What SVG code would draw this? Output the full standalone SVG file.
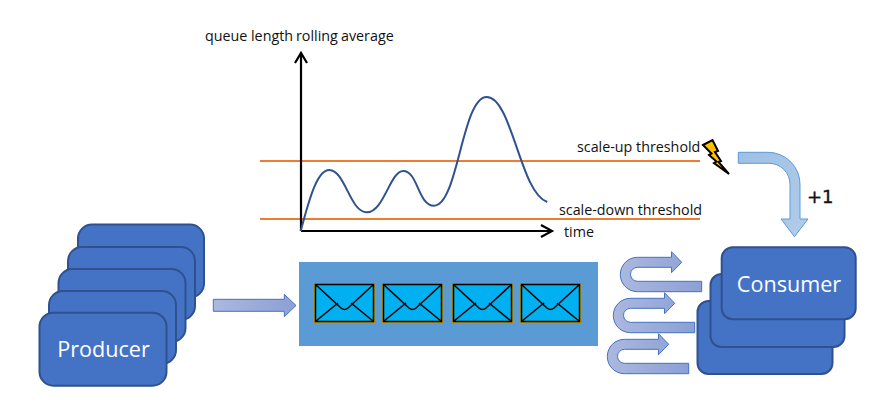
<svg xmlns="http://www.w3.org/2000/svg" width="881" height="416" viewBox="0 0 881 416">
<style>
text{font-family:"Open Sans","Noto Sans","DejaVu Sans",sans-serif;fill:#111}
.box{fill:#4472c4;stroke:#2f528f;stroke-width:2}
.name{font-size:21.600px;fill:#fff;text-anchor:middle}
.lab{font-size:14.300px}
.ax{fill:none;stroke:#000;stroke-width:2.2}
.th{stroke:#ed7d31;stroke-width:2;fill:none}
.u{fill:url(#gu);stroke:#4472c4;stroke-width:1}
.env .b{fill:#00b0f0;stroke:#000;stroke-width:1.500}
.env .o{fill:#bf8f00}
.env path{fill:none;stroke:#000;stroke-width:1.600}
</style>
<defs>
<linearGradient id="gu" x1="0" y1="0" x2="1" y2="0"><stop offset="0" stop-color="#abb8df"/><stop offset="1" stop-color="#8ba0d5"/></linearGradient>
<linearGradient id="gb" x1="0" y1="0" x2="1" y2="1"><stop offset="0" stop-color="#9dc0e6"/><stop offset="1" stop-color="#b3cce9"/></linearGradient>
<g id="envelope" class="env">
<rect class="o" x="0" y="0" width="61" height="40"/>
<rect class="b" x="1.500" y="1.500" width="58" height="37"/>
<path d="M2 2L27 25Q30.500 28 34 25L59 2M2 38L24 20M59 38L37 20"/>
</g>
<path id="uturn" class="u" d="M701.700 291.700H637.500A17.200 17.200 0 0 1 637.500 257.300H671.500V251.700L681.700 262.300L671.500 272.700V267.300H637.500A7 7 0 0 0 637.500 281.300H701.700Z"/>
</defs>
<g id="producer-stack">
<rect class="box" x="78" y="224.500" width="126" height="73" rx="14"/>
<rect class="box" x="68" y="247" width="127" height="73" rx="14"/>
<rect class="box" x="58.500" y="269" width="127" height="73" rx="14"/>
<rect class="box" x="49" y="291" width="127" height="73" rx="14"/>
</g>
<g id="producer">
<rect class="box" x="39.500" y="312.700" width="127" height="73" rx="14"/>
<text class="name" x="103.500" y="356.500">Producer</text>
</g>
<g id="queue">
<rect x="299" y="262" width="299" height="84" fill="#5b9bd5"/>
<use href="#envelope" x="314" y="283"/>
<use href="#envelope" x="382" y="283"/>
<use href="#envelope" x="452" y="283"/>
<use href="#envelope" x="520" y="283"/>
</g>
<g id="consumer-stack">
<rect class="box" x="697.500" y="301" width="135" height="73" rx="11"/>
<rect class="box" x="710.500" y="274" width="134" height="73" rx="11"/>
</g>
<g id="consumer">
<rect class="box" x="721.700" y="247.300" width="134" height="72" rx="11"/>
<text class="name" x="789" y="291.500">Consumer</text>
</g>
<g id="connectors">
<path d="M213.300 299.300H284.300V294.300L296 305.500L284.300 316.700V311.300H213.300Z" fill="url(#gu)" stroke="#4472c4"/>
<use href="#uturn"/>
<use href="#uturn" x="-7" y="41"/>
<use href="#uturn" x="-13" y="82"/>
<path d="M738.300 152.300H768A32 32 0 0 1 800 184.300V219H808L794.500 236.700L781 219H790V184.300A21 21 0 0 0 769 163.300H738.300Z" fill="url(#gb)" stroke="#5b9bd5"/>
</g>
<g id="chart">
<path class="th" d="M260 161H700M260 219H700"/>
<path class="ax" d="M301 231V53M295 63L301 53L307 63M301 231H552M541 225L552 231L541 237"/>
<path d="M300.700 230.700C308 205 316 170 329.300 170C345 170 350 212.300 366.700 212.300C384 212.300 390 171 403.300 171C418 171 418 205.700 434 205.700C458 205.700 462 97 486.700 97C512 97 520 193 547.300 202" fill="none" stroke="#2f528f" stroke-width="2"/>
<text class="lab" x="205" y="41">queue</text>
<text class="lab" x="251" y="41">length</text>
<text class="lab" x="296" y="41">rolling</text>
<text class="lab" x="341" y="41">average</text>
<text class="lab" x="564" y="237">time</text>
<text class="lab" x="577" y="152">scale-up threshold</text>
<text class="lab" x="559" y="215">scale-down threshold</text>
</g>
<g id="alert">
<path d="M703 145L712.500 140L718 151L715 152L721 161L718.500 162L729 174L714 163L716.500 161.500L709 155L711.500 153.500Z" fill="#ffc000" stroke="#000" stroke-width="2"/>
</g>
<text x="807" y="203" font-size="18" style="font-family:'DejaVu Sans',sans-serif;stroke:#111;stroke-width:0.400">+1</text>
</svg>
